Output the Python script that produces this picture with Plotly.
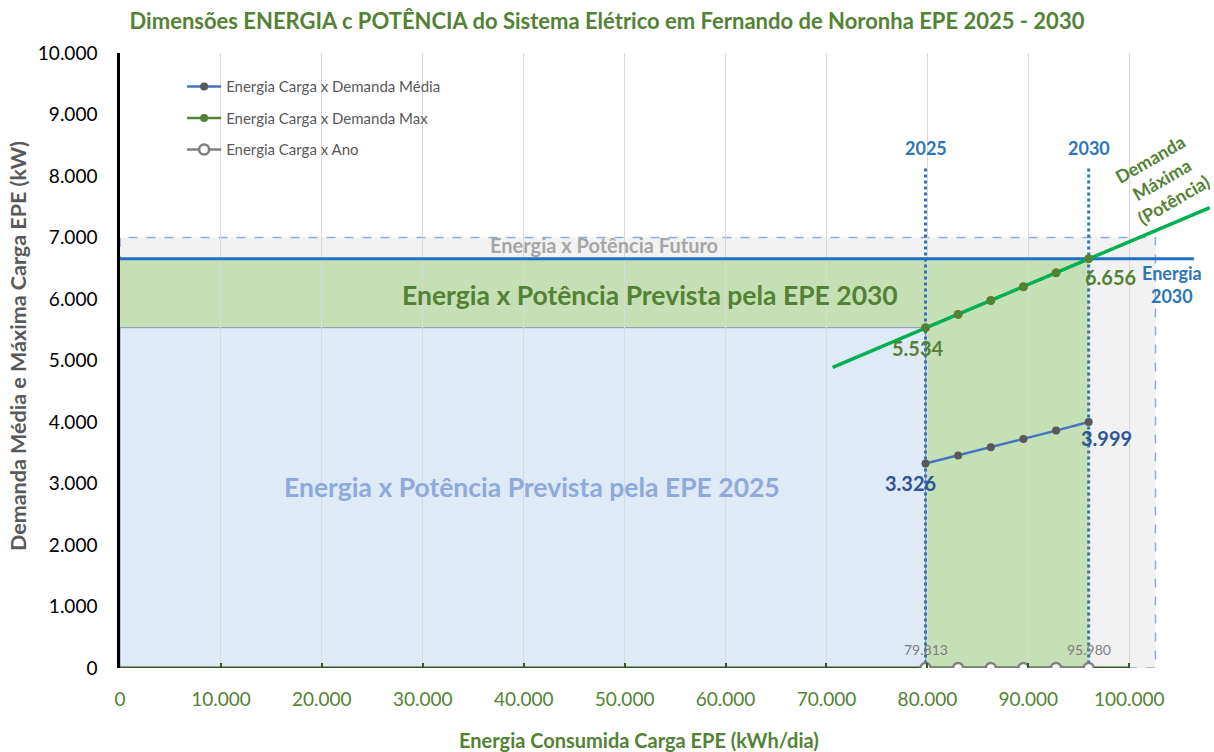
import numpy as np
import plotly.graph_objects as go

# ---------------- data ----------------
energia = [79813, 83046, 86280, 89513, 92747, 95980]          # kWh/dia
demanda_media = [3326, 3455, 3590, 3725, 3860, 3999]          # kW
demanda_max = [5534, 5750, 5975, 6200, 6425, 6656]            # kW
ano_base = [0, 0, 0, 0, 0, 0]
anos = ["2025", "2030"]
futuro_energia = 102600
futuro_potencia = 7000
trend_backward = 9200
trend_forward = 12000
x_ticks = list(range(0, 100001, 10000))
y_ticks = list(range(0, 10001, 1000))

FONT = "Lato"
GREEN_T = "#548235"
BLUE = "#2E75B6"

fig = go.Figure()

# series
fig.add_trace(go.Scatter(x=energia, y=demanda_media, mode="lines+markers",
                         name="Energia Carga x Demanda Média", legendgroup="a",
                         line=dict(color="#4472C4", width=2.5),
                         marker=dict(color="#595959", size=8)))
fig.add_trace(go.Scatter(x=energia, y=demanda_max, mode="lines+markers",
                         name="Energia Carga x Demanda Max", legendgroup="b",
                         line=dict(color="#548235", width=2.5),
                         marker=dict(color="#548235", size=8)))
# linear trend of max demand
coef = np.polyfit(energia, demanda_max, 1)
tx = np.array([energia[0] - trend_backward, energia[-1] + trend_forward])
fig.add_trace(go.Scatter(x=tx, y=np.polyval(coef, tx), mode="lines", showlegend=False,
                         line=dict(color="#00B050", width=3.5), hoverinfo="skip"))
fig.add_trace(go.Scatter(x=energia, y=demanda_max, mode="markers", showlegend=False,
                         marker=dict(color="#548235", size=9)))
fig.add_trace(go.Scatter(x=energia, y=ano_base, mode="lines+markers",
                         name="Energia Carga x Ano", legendgroup="c",
                         line=dict(color="#7F7F7F", width=2.5),
                         marker=dict(color="white", size=10, symbol="circle",
                                     line=dict(color="#7F7F7F", width=2.5))))

shapes = []
# future region
shapes.append(dict(type="rect", xref="x", yref="y", x0=0, x1=futuro_energia, y0=0, y1=futuro_potencia,
                   fillcolor="#F2F2F2", line=dict(color="#8FAADC", width=1.5, dash="dash"), layer="below"))
# 2030 region (union)
e25, e30 = energia[0], energia[-1]
p25, p30 = demanda_max[0], demanda_max[-1]
path = f"M 0 {p25} L 0 {p30} L {e30} {p30} L {e30} 0 L {e25} 0 L {e25} {p25} Z"
shapes.append(dict(type="path", xref="x", yref="y", path=path, fillcolor="#C5E0B4",
                   line=dict(width=0), layer="below"))
# 2025 region
shapes.append(dict(type="rect", xref="x", yref="y", x0=0, x1=e25, y0=0, y1=p25,
                   fillcolor="#DEEAF6", line=dict(color="#7F97B8", width=1), layer="below"))
# energia 2030 horizontal
shapes.append(dict(type="line", xref="x", yref="y", x0=0, x1=106400, y0=p30, y1=p30,
                   line=dict(color="#1F6FC5", width=3), layer="between"))
# vertical year lines
for e in (e25, e30):
    shapes.append(dict(type="line", xref="x", yref="y", x0=e, x1=e, y0=-120, y1=8150,
                       line=dict(color=BLUE, width=3, dash="dot"), layer="between"))
# x axis line
shapes.append(dict(type="line", xref="x", yref="y", x0=0, x1=100000, y0=0, y1=0,
                   line=dict(color="#375623", width=3), layer="between"))

ann = []
def A(x, y, text, color, size, **kw):
    d = dict(x=x, y=y, xref="x", yref="y", text=text, showarrow=False,
             font=dict(family=FONT, size=size, color=color))
    d.update(kw)
    ann.append(d)

A(e25, 8450, "<b>" + anos[0] + "</b>", BLUE, 18)
A(e30, 8450, "<b>" + anos[1] + "</b>", BLUE, 18)
A(104200, 6230, "<b>Energia<br>2030</b>", BLUE, 18)
A(103200, 7950, "<b>Demanda<br>Máxima<br>(Potência)</b>", "#548235", 18, textangle=-30)
A(48000, 6880, "<b>Energia x Potência Futuro</b>", "#A6A6A6", 20)
A(52500, 6060, "<b>Energia x Potência Prevista pela EPE 2030</b>", GREEN_T, 26.5)
A(40800, 2940, "<b>Energia x Potência Prevista pela EPE 2025</b>", "#8EA9DB", 26.5)
A(e25, p25, "<b>5.534</b>", GREEN_T, 20, xanchor="right", yanchor="top", xshift=20, yshift=-6)
A(e30, p30, "<b>6.656</b>", GREEN_T, 20, xanchor="left", yanchor="top", xshift=-6, yshift=-4)
A(e25, demanda_media[0], "<b>3.326</b>", "#2F5597", 20, xanchor="right", yanchor="top", xshift=12, yshift=-6)
A(e30, demanda_media[-1], "<b>3.999</b>", "#2F5597", 20, xanchor="left", yanchor="top", xshift=-10, yshift=-2)
A(e25, 0, "79.813", "#7F7F7F", 14, yanchor="bottom", yshift=8)
A(e30, 0, "95.980", "#7F7F7F", 14, yanchor="bottom", yshift=8)
# axis titles
ann.append(dict(xref="paper", yref="paper", x=(639 - 120) / 1090, y=-(740 - 668) / 615,
                text="<b>Energia Consumida Carga EPE (kWh/dia)</b>", showarrow=False,
                xanchor="center", yanchor="middle", font=dict(family=FONT, size=20, color=GREEN_T)))
ann.append(dict(xref="paper", yref="paper", x=-(120 - 18) / 1090, y=(668 - 346) / 615,
                text="<b>Demanda Média e Máxima Carga EPE (kW)</b>", showarrow=False, textangle=-90,
                xanchor="center", yanchor="middle", font=dict(family=FONT, size=21.5, color="#595959")))

fig.update_layout(
    width=1214, height=752,
    margin=dict(l=120, r=4, t=53, b=84, autoexpand=False),
    paper_bgcolor="white", plot_bgcolor="white",
    separators=",.",
    title=dict(text="<b>Dimensões ENERGIA c POTÊNCIA do Sistema Elétrico em Fernando de Noronha EPE 2025 - 2030</b>",
               x=0.5, xanchor="center", y=0.972, yanchor="middle",
               font=dict(family=FONT, size=22, color=GREEN_T)),
    shapes=shapes, annotations=ann,
    legend=dict(x=0.057, y=0.972, xanchor="left", yanchor="top", bgcolor="rgba(0,0,0,0)",
                font=dict(family=FONT, size=15, color="#595959"),
                traceorder="grouped", tracegroupgap=9, itemwidth=34),
    showlegend=True,
)
fig.update_xaxes(range=[0, 108000], tickvals=x_ticks, tickformat=",.0f", automargin=False,
                 showgrid=True, gridcolor="#D9D9D9", gridwidth=1, zeroline=False, showline=False,
                 ticks="inside", ticklen=5, tickwidth=2, tickcolor="#375623",
                 tickfont=dict(family=FONT, size=19, color=GREEN_T), ticklabelstandoff=18)
fig.update_yaxes(range=[0, 10000], tickvals=y_ticks, tickformat=",.0f", automargin=False,
                 showgrid=False, zeroline=False, showline=True, linecolor="black", linewidth=2.5,
                 ticks="", tickfont=dict(family=FONT, size=19, color="black"), ticklabelstandoff=16)

fig.write_html("out.html", config={"displayModeBar": False},
               post_script="document.body.style.margin='0';")
